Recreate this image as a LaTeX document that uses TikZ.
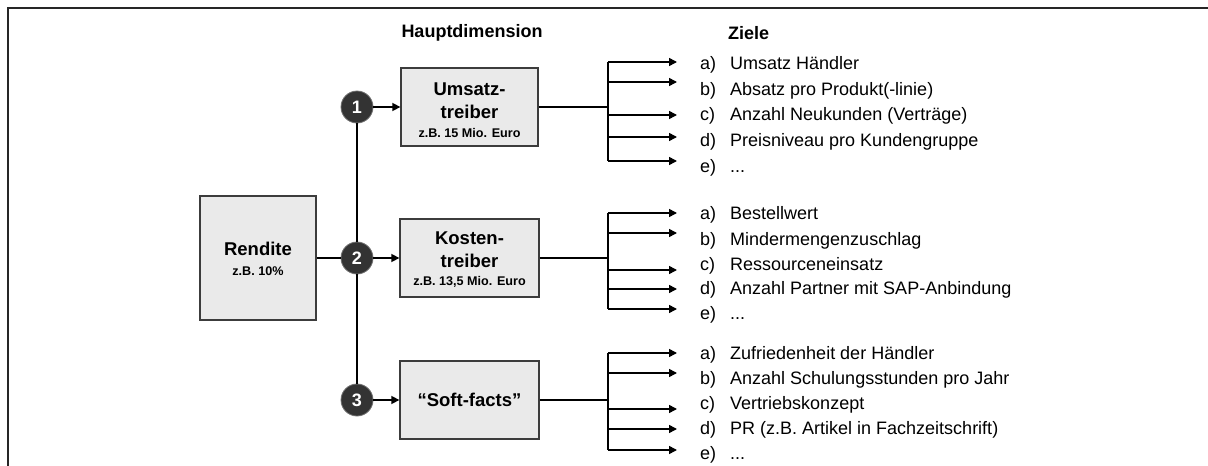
\documentclass[tikz,border=0pt]{standalone}
\usepackage{fontspec}
\setmainfont{Liberation Sans}
\usetikzlibrary{arrows.meta}
\definecolor{boxfill}{HTML}{EAEAEA}
\definecolor{boxline}{HTML}{3C3C3C}
\definecolor{numfill}{HTML}{333333}
\tikzset{
  conn/.style={line width=1.5pt, draw=black},
  arr/.style={conn, -{Triangle[length=8pt,width=8pt]}},
  box/.style={draw=boxline, fill=boxfill, line width=1.3pt, inner sep=0pt},
  num/.style={circle, draw=numfill!70, fill=numfill, line width=0.8pt, minimum size=32pt, inner sep=0pt,
              text=white, font=\fontsize{18}{20}\selectfont\bfseries},
  ttl/.style={font=\fontsize{18.5}{22}\selectfont\bfseries, inner sep=0pt},
  sub/.style={font=\fontsize{12.6}{14}\selectfont\bfseries, inner sep=0pt},
  hdr/.style={font=\fontsize{18}{20}\selectfont\bfseries, inner sep=0pt},
  itm/.style={font=\fontsize{18}{20}\selectfont, inner sep=0pt, anchor=base west},
}
\begin{document}
\begin{tikzpicture}[x=1pt,y=-1pt]
\useasboundingbox (0,0) rectangle (1208,466);
\fill[white] (0,0) rectangle (1208,466);
% frame
\draw[line width=2.2pt, draw=black!85] (8,466) -- (8,8) -- (1208,8);

% headers
\node[hdr] (h1) at (472,33) {Hauptdimension};
\node[hdr, anchor=west] (h2) at (728,33) {Ziele};

% main box
\node[box, minimum width=116pt, minimum height=124pt] (r) at (258,258) {};
\node[ttl] (rt) at (258,249) {Rendite};
\node[sub] (rs) at (258,271) {z.B. 10\%};

% dimension boxes
\node[box, minimum width=137pt, minimum height=78pt] (u) at (469.5,107) {};
\node[ttl] (ut1) at (469.5,89) {Umsatz-};
\node[ttl] (ut2) at (469.5,112) {treiber};
\node[sub] (us) at (469.5,132.5) {z.B. 15 Mio. Euro};

\node[box, minimum width=139pt, minimum height=78pt] (k) at (469.5,258) {};
\node[ttl] (kt1) at (469.5,238) {Kosten-};
\node[ttl] (kt2) at (469.5,261) {treiber};
\node[sub] (ks) at (469.5,281.5) {z.B. 13,5 Mio. Euro};

\node[box, minimum width=139pt, minimum height=78pt] (s) at (469.5,400) {};
\node[ttl] (st) at (469.5,400) {“Soft-facts”};

% numbered circles
\node[num] (c1) at (357,107) {1};
\node[num] (c2) at (357,258) {2};
\node[num] (c3) at (357,400) {3};

% connectors left
\draw[conn] (r) -- (c2);
\draw[conn] (c1) -- (c2);
\draw[conn] (c2) -- (c3);
\draw[arr] (c1) -- (u);
\draw[arr] (c2) -- (k);
\draw[arr] (c3) -- (s);

% branches
\coordinate (b1) at (608,107);
\coordinate (b2) at (608,258);
\coordinate (b3) at (608,400);
\draw[conn] (u) -- (b1);
\draw[conn] (k) -- (b2);
\draw[conn] (s) -- (b3);

% group 1 arrows
\foreach \n/\y in {a/62,b/82,c/115,d/137,e/161}{
  \coordinate (b1\n) at (608,\y);
  \coordinate (e1\n) at (677,\y);
}
\draw[conn] (b1a) -- (b1e);
\foreach \n in {a,b,c,d,e}{ \draw[arr] (b1\n) -- (e1\n); }

% group 2 arrows
\foreach \n/\y in {a/213,b/233,c/270,d/289,e/309}{
  \coordinate (b2\n) at (608,\y);
  \coordinate (e2\n) at (677,\y);
}
\draw[conn] (b2a) -- (b2e);
\foreach \n in {a,b,c,d,e}{ \draw[arr] (b2\n) -- (e2\n); }

% group 3 arrows
\foreach \n/\y in {a/353,b/373,c/409,d/429,e/450}{
  \coordinate (b3\n) at (608,\y);
  \coordinate (e3\n) at (677,\y);
}
\draw[conn] (b3a) -- (b3e);
\foreach \n in {a,b,c,d,e}{ \draw[arr] (b3\n) -- (e3\n); }

% items group 1
\node[itm] (l1a) at (700,69) {a)};  \node[itm] (t1a) at (730,69) {Umsatz Händler};
\node[itm] (l1b) at (700,95) {b)};  \node[itm] (t1b) at (730,95) {Absatz pro Produkt(-linie)};
\node[itm] (l1c) at (700,120) {c)}; \node[itm] (t1c) at (730,120) {Anzahl Neukunden (Verträge)};
\node[itm] (l1d) at (700,146) {d)}; \node[itm] (t1d) at (730,146) {Preisniveau pro Kundengruppe};
\node[itm] (l1e) at (700,172) {e)}; \node[itm] (t1e) at (730,172) {...};

% items group 2
\node[itm] (l2a) at (700,219) {a)}; \node[itm] (t2a) at (730,219) {Bestellwert};
\node[itm] (l2b) at (700,245) {b)}; \node[itm] (t2b) at (730,245) {Mindermengenzuschlag};
\node[itm] (l2c) at (700,270) {c)}; \node[itm] (t2c) at (730,270) {Ressourceneinsatz};
\node[itm] (l2d) at (700,294) {d)}; \node[itm] (t2d) at (730,294) {Anzahl Partner mit SAP-Anbindung};
\node[itm] (l2e) at (700,319) {e)}; \node[itm] (t2e) at (730,319) {...};

% items group 3
\node[itm] (l3a) at (700,359) {a)}; \node[itm] (t3a) at (730,359) {Zufriedenheit der Händler};
\node[itm] (l3b) at (700,384) {b)}; \node[itm] (t3b) at (730,384) {Anzahl Schulungsstunden pro Jahr};
\node[itm] (l3c) at (700,409) {c)}; \node[itm] (t3c) at (730,409) {Vertriebskonzept};
\node[itm] (l3d) at (700,434) {d)}; \node[itm] (t3d) at (730,434) {PR (z.B. Artikel in Fachzeitschrift)};
\node[itm] (l3e) at (700,459) {e)}; \node[itm] (t3e) at (730,459) {...};
\end{tikzpicture}
\end{document}
